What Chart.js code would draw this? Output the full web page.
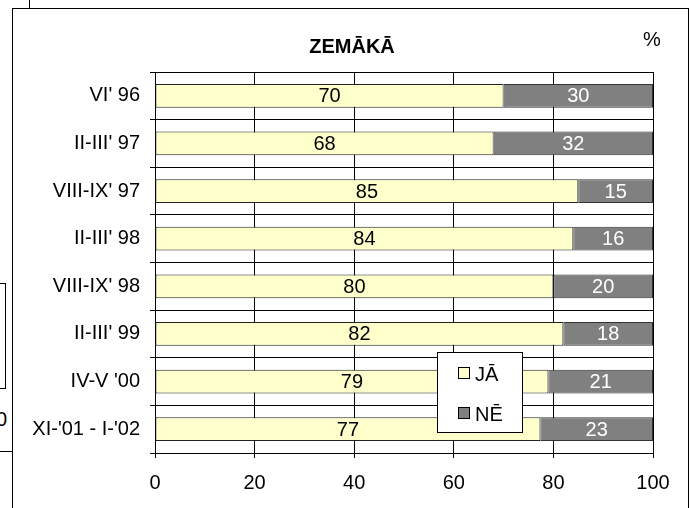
<!DOCTYPE html>
<html>
<head>
<meta charset="utf-8">
<title>ZEMĀKĀ</title>
<script src="https://cdn.jsdelivr.net/npm/chart.js@4.4.1/dist/chart.umd.min.js"></script>
<style>
  html, body { margin: 0; padding: 0; background: #fff; }
  body { width: 691px; height: 508px; position: relative; overflow: hidden; font-family: 'Liberation Sans', Arial, sans-serif; }
  .frame { position: absolute; left: 12px; top: 8px; width: 677px; height: 560px; border: 1px solid #000; box-sizing: border-box; }
  .wrap { position: absolute; left: 0; top: 0; width: 691px; height: 508px; }
  .pct { position: absolute; left: 643px; top: 28px; font-size: 20px; color: #000; }
  /* bits of the neighbouring chart that are cut off at the left edge */
  .side-box { position: absolute; left: -20px; top: 283px; width: 26px; height: 106px; border: 1px solid #000; box-sizing: border-box; }
  .side-tick { position: absolute; left: -4px; top: 408px; font-size: 20px; color: #000; }
  .side-line { position: absolute; left: 0; top: 451px; width: 12px; height: 1px; background: #000; }
  .top-line { position: absolute; left: 29px; top: 0; width: 1px; height: 8px; background: #000; }
</style>
</head>
<body>
<div class="top-line"></div>
<div class="side-box"></div>
<div class="side-tick">0</div>
<div class="side-line"></div>
<div class="frame"></div>
<div class="wrap"><canvas id="chart"></canvas></div>
<div class="pct">%</div>
<script>
// values
const categories = ["VI' 96", "II-III' 97", "VIII-IX' 97", "II-III' 98", "VIII-IX' 98", "II-III' 99", "IV-V '00", "XI-'01 - I-'02"]
const yesValues = [70, 68, 85, 84, 80, 82, 79, 77.4]
const noValues = [30, 32, 15, 16, 20, 18, 21, 22.6]
const xTicks = [0, 20, 40, 60, 80, 100]

const FONT = "'Liberation Sans', Arial, sans-serif"

// numbers inside the bars
const barLabels = {
  id: 'barLabels',
  afterDatasetsDraw(chart) {
    const ctx = chart.ctx
    ctx.save()
    ctx.font = '20px ' + FONT
    ctx.textAlign = 'center'
    ctx.textBaseline = 'middle'
    chart.data.datasets.forEach((ds, i) => {
      ctx.fillStyle = i === 0 ? '#000' : '#fff'
      chart.getDatasetMeta(i).data.forEach((bar, j) => {
        const p = bar.getCenterPoint()
        ctx.fillText(Math.round(ds.data[j]), p.x, p.y + 1)
      })
    })
    ctx.restore()
  }
}

// boxed legend sitting inside the plot, bottom right
const boxLegend = {
  id: 'boxLegend',
  afterDraw(chart) {
    const { ctx, chartArea } = chart
    const x = chartArea.left + 282
    const y = chartArea.top + 280
    ctx.save()
    ctx.fillStyle = '#fff'
    ctx.fillRect(x, y, 85, 80)
    ctx.strokeStyle = '#000'
    ctx.lineWidth = 1
    ctx.strokeRect(x + 0.5, y + 0.5, 85, 80)
    ctx.font = '20px ' + FONT
    ctx.textBaseline = 'middle'
    chart.data.datasets.forEach((ds, i) => {
      const cy = y + 21 + i * 40
      ctx.fillStyle = ds.backgroundColor
      ctx.fillRect(x + 21, cy - 6, 12, 12)
      ctx.strokeStyle = '#000'
      ctx.strokeRect(x + 21.5, cy - 5.5, 11, 11)
      ctx.fillStyle = '#000'
      ctx.fillText(ds.label, x + 38, cy + 2)
    })
    ctx.restore()
  }
}

new Chart(document.getElementById('chart'), {
  type: 'bar',
  data: {
    labels: categories,
    datasets: [
      { label: 'JĀ', data: yesValues, backgroundColor: '#FFFFCC', borderColor: '#222', borderWidth: 1, borderSkipped: false },
      { label: 'NĒ', data: noValues, backgroundColor: '#808080', borderColor: '#333', borderWidth: 1, borderSkipped: false }
    ]
  },
  options: {
    indexAxis: 'y',
    responsive: true,
    maintainAspectRatio: false,
    animation: false,
    layout: { padding: { left: 13, right: 0, top: 0, bottom: 0 } },
    datasets: { bar: { categoryPercentage: 1, barPercentage: 0.5 } },
    plugins: {
      legend: { display: false },
      tooltip: { enabled: false },
      title: {
        display: true,
        text: 'ZEMĀKĀ',
        color: '#000',
        font: { family: FONT, size: 20, weight: 'bold' },
        padding: { top: 35, bottom: 13 }
      }
    },
    scales: {
      x: {
        stacked: true,
        min: xTicks[0],
        max: xTicks[xTicks.length - 1],
        afterFit: scale => { scale.height = 55 },
        grid: { color: '#000', lineWidth: 1, tickLength: 5 },
        border: { color: '#000' },
        ticks: { stepSize: xTicks[1] - xTicks[0], color: '#000', padding: 13, maxRotation: 0, font: { family: FONT, size: 20 } }
      },
      y: {
        stacked: true,
        afterFit: scale => { scale.width = 142 },
        grid: { color: '#000', lineWidth: 1, tickLength: 5 },
        border: { color: '#000' },
        ticks: { color: '#000', padding: 10, font: { family: FONT, size: 20 } }
      },
      // empty strip on the right so the title stays centred on the frame
      yRight: {
        type: 'category',
        position: 'right',
        afterFit: scale => { scale.width = 38 },
        grid: { display: false },
        border: { display: false },
        ticks: { display: false }
      }
    }
  },
  plugins: [barLabels, boxLegend]
})
</script>
</body>
</html>
